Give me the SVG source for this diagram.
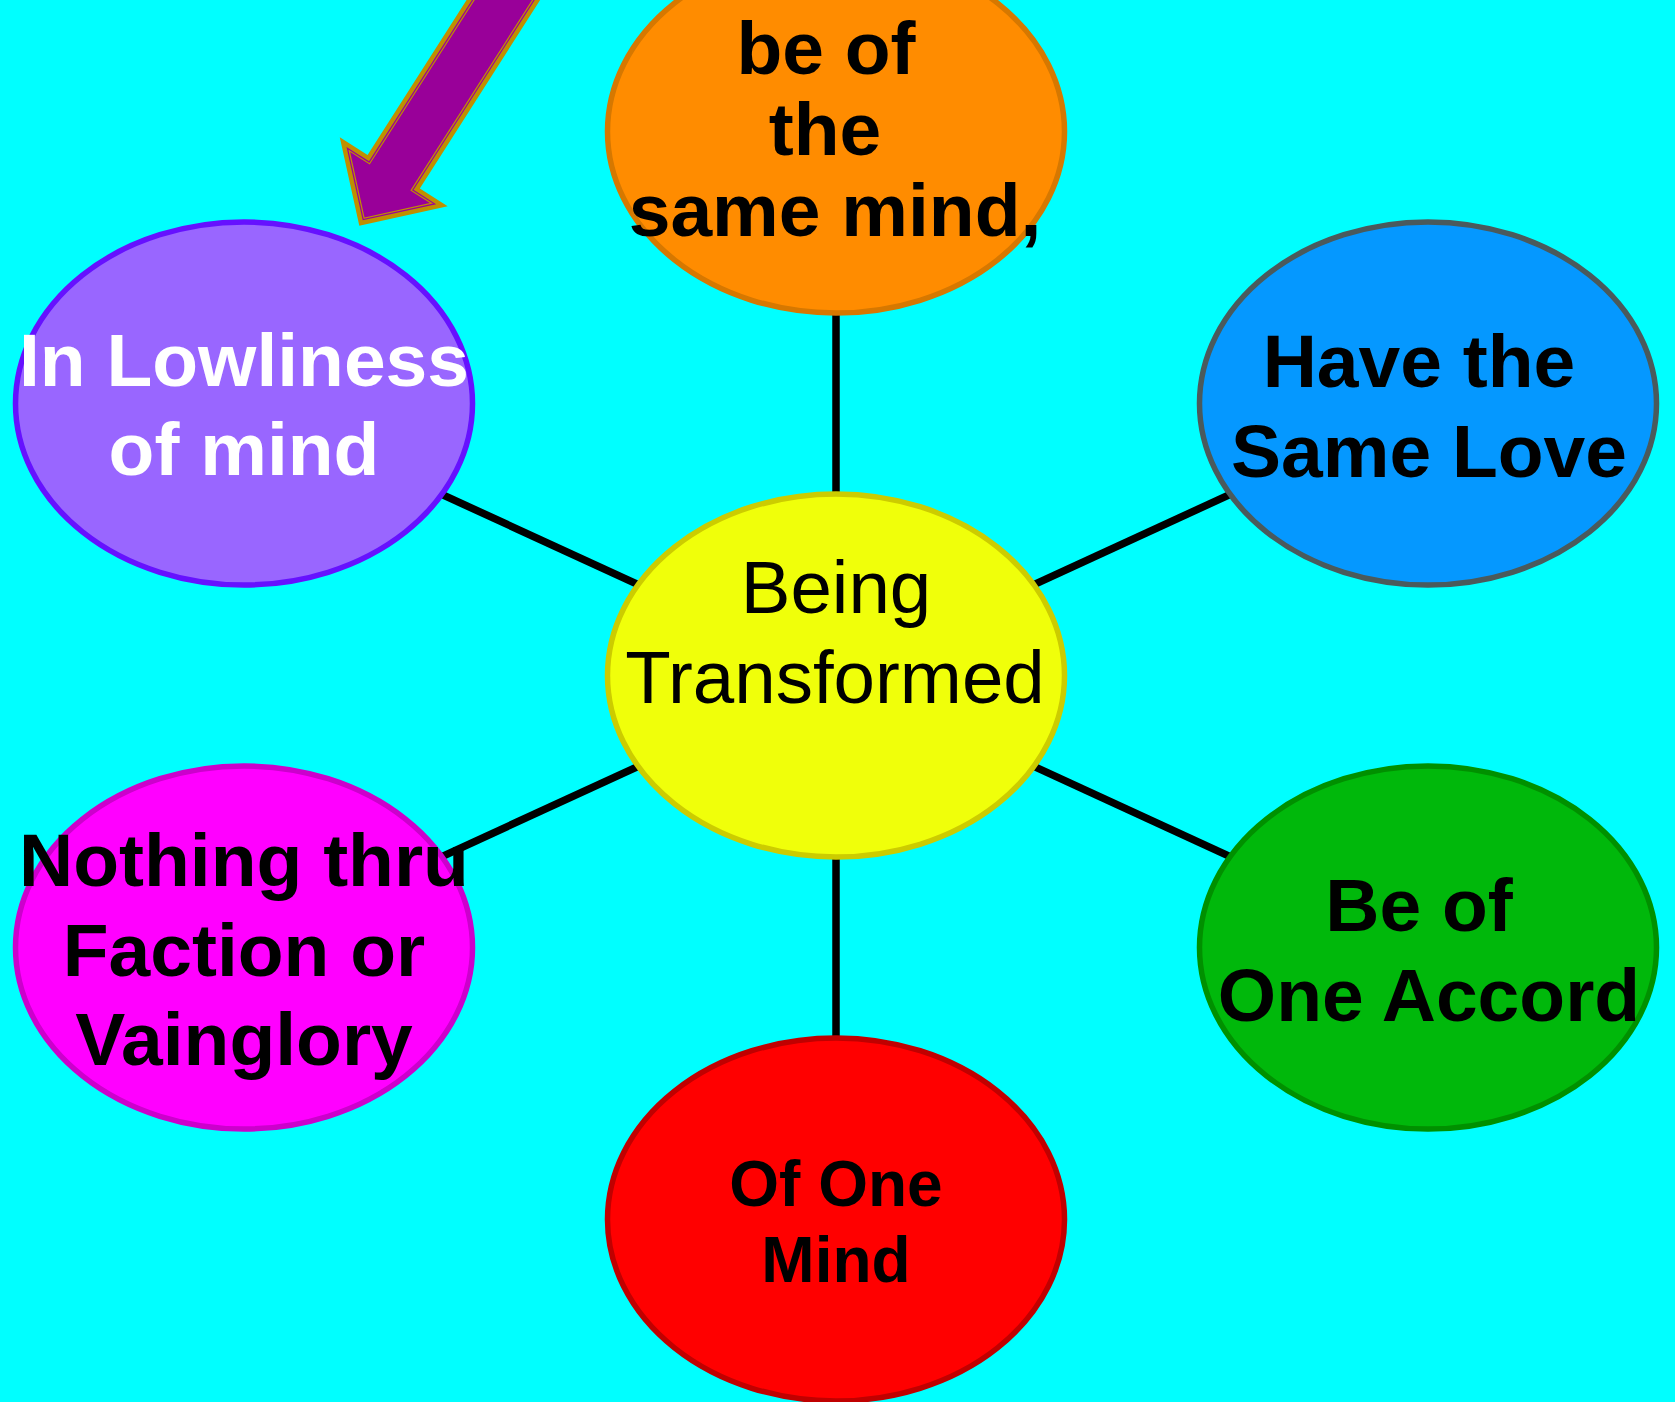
<svg xmlns="http://www.w3.org/2000/svg" width="1675" height="1402" viewBox="0 0 1675 1402">
<style>
.node{stroke-width:5.5}
.t{font-family:"Liberation Sans",Arial,sans-serif;font-size:75px;font-weight:bold;text-anchor:middle;fill:#000}
.w{fill:#fff}
.reg{font-weight:normal;font-size:74.5px}
.sm{font-size:64px}
.conn line{stroke:#000;stroke-width:7.5}
</style>
<rect width="1675" height="1402" fill="#00ffff"/>
<g id="connectors" class="conn">
<line x1="836" y1="675.5" x2="836" y2="131.5"/>
<line x1="836" y1="675.5" x2="244" y2="403.5"/>
<line x1="836" y1="675.5" x2="1428" y2="403.5"/>
<line x1="836" y1="675.5" x2="244" y2="947.5"/>
<line x1="836" y1="675.5" x2="1428" y2="947.5"/>
<line x1="836" y1="675.5" x2="836" y2="1219.5"/>
</g>
<g id="arrow" transform="translate(359.3,225.7) rotate(-57.45)">
<polygon points="7.21,0 58.9,-51.7 58.9,-25.9 340,-25.9 340,25.9 58.9,25.9 58.9,51.7" fill="#990099" stroke="#bf8f00" stroke-width="10.2" stroke-linejoin="miter" stroke-miterlimit="10"/>
<polygon points="9.76,0 57.1,-47.3 57.1,-24.1 340,-24.1 340,24.1 57.1,24.1 57.1,47.3" fill="#990099"/>
<polygon points="7.21,0 58.9,-51.7 58.9,-25.9 340,-25.9 340,25.9 58.9,25.9 58.9,51.7" fill="none" stroke="#990099" stroke-width="1.2" stroke-miterlimit="10"/>
</g>
<g id="node-top">
<ellipse class="node" cx="836" cy="131.5" rx="228.5" ry="181.5" fill="#ff8c00" stroke="#d67800"/>
<text class="t" x="826" y="74">be of</text>
<text class="t" x="825" y="155">the</text>
<text class="t" x="835" y="236">same mind,</text>
</g>
<g id="node-lowliness">
<ellipse class="node" cx="244" cy="403.5" rx="228.5" ry="181.5" fill="#9966ff" stroke="#6611ff"/>
<text class="t w" x="244" y="386">In Lowliness</text>
<text class="t w" x="244" y="475">of mind</text>
</g>
<g id="node-love">
<ellipse class="node" cx="1428" cy="403.5" rx="228.5" ry="181.5" fill="#0598ff" stroke="#4a5a5c"/>
<text class="t" x="1419" y="386.7">Have the</text>
<text class="t" x="1429" y="476.7">Same Love</text>
</g>
<g id="node-center">
<ellipse class="node" cx="836" cy="675.5" rx="228.5" ry="181.5" fill="#f0ff0a" stroke="#cccc00"/>
<text class="t reg" x="836" y="613.3">Being</text>
<text class="t reg" x="835" y="702.7">Transformed</text>
</g>
<g id="node-faction">
<ellipse class="node" cx="244" cy="947.5" rx="228.5" ry="181.5" fill="#ff00ff" stroke="#cc00cc"/>
<text class="t" x="244" y="885.7">Nothing thru</text>
<text class="t" x="244" y="975.7">Faction or</text>
<text class="t" x="244" y="1065">Vainglory</text>
</g>
<g id="node-accord">
<ellipse class="node" cx="1428" cy="947.5" rx="228.5" ry="181.5" fill="#00b80b" stroke="#009000"/>
<text class="t" x="1419" y="930.7">Be of</text>
<text class="t" x="1429" y="1020.7">One Accord</text>
</g>
<g id="node-onemind">
<ellipse class="node" cx="836" cy="1219.5" rx="228.5" ry="181.5" fill="#ff0000" stroke="#c00000"/>
<text class="t sm" x="836" y="1205.7">Of One</text>
<text class="t sm" x="836" y="1282.3">Mind</text>
</g>
</svg>
